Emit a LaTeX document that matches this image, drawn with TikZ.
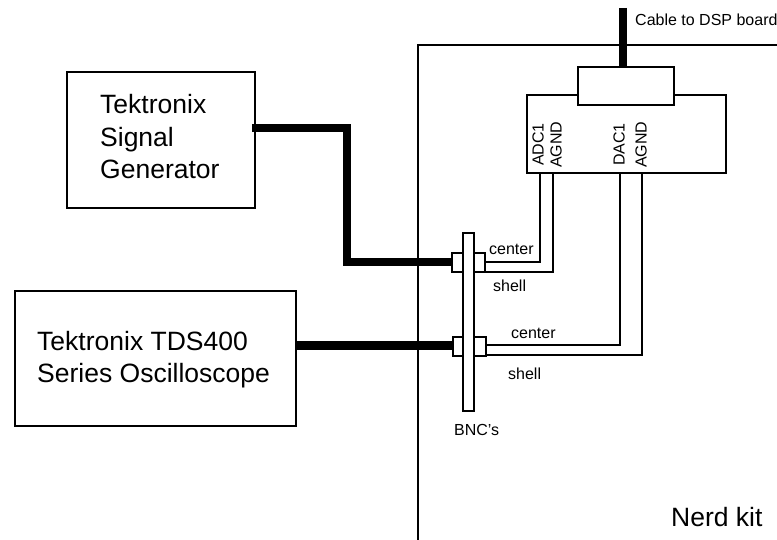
\documentclass[tikz,border=0pt]{standalone}
\usepackage{fontspec}
\setmainfont{Liberation Sans}
\tikzset{
  boxnode/.style={draw=black,fill=white,line width=2pt,inner sep=0pt,outer sep=0pt,anchor=north west},
  wire/.style={draw=black,line width=2pt,line join=miter},
  thickcable/.style={draw=black,line width=8pt,line join=miter},
  biglabel/.style={font=\fontsize{26.5}{32.5}\selectfont,align=left,anchor=north west,inner sep=0pt},
  smalllabel/.style={font=\fontsize{16}{19}\selectfont,inner sep=0pt},
  pinlabel/.style={font=\fontsize{16}{19}\selectfont,inner sep=0pt,rotate=90,anchor=west}
}
\begin{document}
\begin{tikzpicture}[x=1pt,y=-1pt]
\useasboundingbox (0,0) rectangle (777,540);
\fill[white] (0,0) rectangle (777,540);
% Nerd kit outline
\draw[wire] (417.5,540) -- (417.5,45) -- (777,45);
% Cable to DSP
\coordinate (cabletop) at (623,8);
% Interface box and plug
\node[boxnode,minimum width=199pt,minimum height=78pt] (iface) at (527,95) {};
\node[boxnode,minimum width=96pt,minimum height=38pt] (plug) at (578,67) {};
\draw[line width=8pt] (cabletop) -- (plug.north -| cabletop);
% instrument boxes
\node[boxnode,minimum width=188pt,minimum height=135.5pt] (gen) at (67,72.5) {};
\node[boxnode,minimum width=281.5pt,minimum height=135pt] (scope) at (14.5,291) {};
% BNC connectors
\node[boxnode,minimum width=33pt,minimum height=19pt] (bncA) at (452,253) {};
\node[boxnode,minimum width=33pt,minimum height=19pt] (bncB) at (453,337) {};
\node[boxnode,minimum width=11pt,minimum height=178pt] (bar) at (463,233) {};
% thick cables
\coordinate (genout) at (252,128);
\coordinate (bendA) at (347,128);
\coordinate (bendB) at (347,262);
\draw[thickcable] (genout) -- (bendA) -- (bendB) -- (bendB -| bncA.west);
\coordinate (scopeout) at (296,345);
\draw[thickcable,line width=9pt] (scopeout) -- (scopeout -| bncB.west);
% thin wires
\coordinate (a1) at (540,262);
\coordinate (a2) at (553,272);
\coordinate (a3) at (620,345);
\coordinate (a4) at (642,355);
\draw[wire] (a1 -| bncA.east) -- (a1) -- (a1 |- iface.south);
\draw[wire] (a2 -| bncA.east) -- (a2) -- (a2 |- iface.south);
\draw[wire] (a3 -| bncB.east) -- (a3) -- (a3 |- iface.south);
\draw[wire] (a4 -| bncB.east) -- (a4) -- (a4 |- iface.south);
% labels
\node[biglabel] (t1) at (100,94.5) {Tektronix\\Signal\\Generator};
\node[biglabel] (t2) at (37,331) {Tektronix TDS400\\Series Oscilloscope};
\node[smalllabel,anchor=west] (t3) at (635,20) {Cable to DSP board};
\node[pinlabel] (p1) at (538,166) {ADC1};
\node[pinlabel] (p2) at (556,168) {AGND};
\node[pinlabel] (p3) at (619,166) {DAC1};
\node[pinlabel] (p4) at (641,168) {AGND};
\node[smalllabel,anchor=west] (c1) at (489,249) {center};
\node[smalllabel,anchor=west] (s1) at (493,286) {shell};
\node[smalllabel,anchor=west] (c2) at (511,333) {center};
\node[smalllabel,anchor=west] (s2) at (508,374) {shell};
\node[smalllabel,anchor=west] (b1) at (454,430) {BNC's};
\node[font=\fontsize{26.5}{31}\selectfont,inner sep=0pt,anchor=west] (k) at (671,517) {Nerd kit};
\end{tikzpicture}
\end{document}
